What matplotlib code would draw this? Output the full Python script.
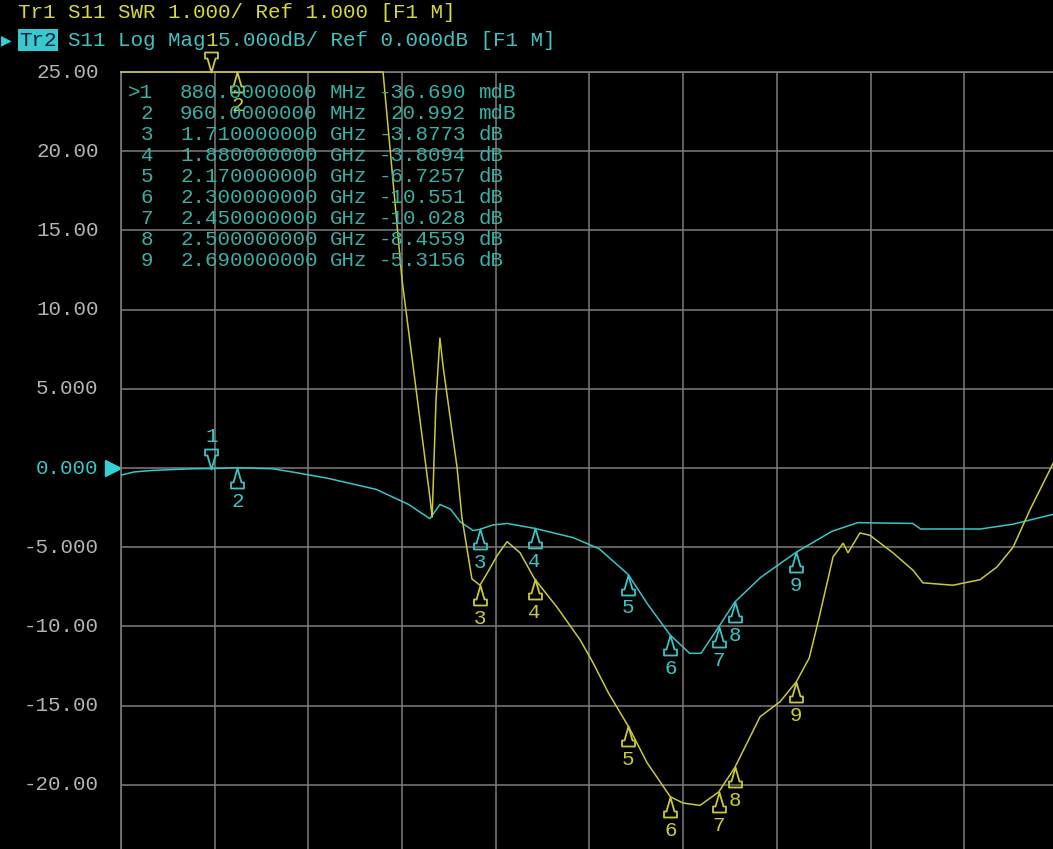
import numpy as np
import matplotlib
matplotlib.use("Agg")
import matplotlib.pyplot as plt
from matplotlib.path import Path
from matplotlib.transforms import blended_transform_factory

# Tr2: S11 log mag (dB)
freq_tr2 = [600, 640, 700, 820, 880, 960, 1070, 1130, 1240, 1390, 1490, 1556, 1587,
            1620, 1650, 1690, 1710, 1750, 1795, 1880, 2000, 2080, 2170, 2230, 2300,
            2360, 2395, 2450, 2500, 2580, 2690, 2800, 2880, 3050, 3075, 3260, 3360, 3490]
s11_db = [-0.45, -0.25, -0.15, -0.05, -0.037, 0.021, -0.05, -0.25, -0.65, -1.35, -2.3,
          -3.2, -2.3, -2.6, -3.4, -3.95, -3.877, -3.6, -3.5, -3.809, -4.4, -5.1, -6.726,
          -8.6, -10.551, -11.7, -11.7, -10.028, -8.456, -6.9, -5.316, -4.0, -3.45, -3.5,
          -3.85, -3.85, -3.55, -2.9]

# Tr1: SWR (screen clamps at the top line, 11.0)
freq_tr1 = [600, 1411, 1470, 1556, 1563, 1575, 1587, 1597, 1640, 1655, 1686, 1711, 1733,
            1765, 1795, 1835, 1880, 1950, 2021, 2061, 2110, 2170, 2228, 2300, 2339, 2392,
            2450, 2500, 2578, 2640, 2690, 2730, 2760, 2804, 2835, 2850, 2887, 2918, 2989,
            3051, 3082, 3175, 3259, 3311, 3361, 3413, 3490]
swr = [11.0, 11.0, 8.37, 5.63, 5.38, 6.86, 7.64, 7.28, 6.01, 5.38, 4.6, 4.52, 4.67,
       4.9, 5.07, 4.93, 4.6, 4.24, 3.83, 3.54, 3.15, 2.74, 2.28, 1.85, 1.77, 1.74,
       1.91, 2.22, 2.86, 3.05, 3.3, 3.6, 4.1, 4.88, 5.05, 4.93, 5.18, 5.15, 4.93,
       4.71, 4.55, 4.52, 4.59, 4.75, 5.0, 5.47, 6.1]

marker_freq = [880, 960, 1710, 1880, 2170, 2300, 2450, 2500, 2690]
marker_num = [">1", "2", "3", "4", "5", "6", "7", "8", "9"]
marker_freq_text = ["880.0000000", "960.0000000", "1.710000000", "1.880000000",
                    "2.170000000", "2.300000000", "2.450000000", "2.500000000",
                    "2.690000000"]
marker_freq_unit = ["MHz", "MHz", "GHz", "GHz", "GHz", "GHz", "GHz", "GHz", "GHz"]
marker_val_text = ["-36.690", "20.992", "-3.8773", "-3.8094", "-6.7257", "-10.551",
                   "-10.028", "-8.4559", "-5.3156"]
marker_val_unit = ["mdB", "mdB", "dB", "dB", "dB", "dB", "dB", "dB", "dB"]

ytick_vals = [25, 20, 15, 10, 5, 0, -5, -10, -15, -20]
ytick_labels = ["25.00", "20.00", "15.00", "10.00", "5.000", "0.000", "-5.000",
                "-10.00", "-15.00", "-20.00"]

CYAN = "#3cc4c4"
TABLE = "#3aafa5"
YEL = "#c9c93a"
GRID = "#7c7c7c"
LABEL = "#b4b4b4"
FONT = ["Liberation Mono", "DejaVu Sans Mono"]
FS = 15

W, H = 1053, 849
fig = plt.figure(figsize=(W / 100, H / 100), dpi=100, facecolor="black")


def fx(x):
    return x / W


def fy(y):
    return 1 - y / H


# plot area: 121..1058 px wide, 72..864 px tall (bottom/right run off the screen)
ax = fig.add_axes([fx(121), fy(864), 937 / W, 792 / H])
ax.set_facecolor("black")
ax.set_xlim(600, 3500)
ax.set_ylim(-25, 25)
ax.set_xticks(np.linspace(600, 3500, 11))
ax.set_yticks(np.arange(-25, 26, 5))
ax.grid(True, color=GRID, lw=1.1)
ax.tick_params(length=0, labelleft=False, labelbottom=False)
for s in ax.spines.values():
    s.set_color(GRID)
    s.set_linewidth(1.2)

# SWR scale: 1.000/div, ref 1.000 on the bottom line
ax2 = ax.twinx()
ax2.set_ylim(1, 11)
ax2.axis("off")

ax.plot(freq_tr2, s11_db, color=CYAN, lw=1.1, zorder=3)
ax2.plot(freq_tr1, swr, color=YEL, lw=1.1, clip_on=False, zorder=3)

# marker glyph: narrow triangle on a little base, tip at the origin
up_verts = [(0, 0), (-4, -14), (-6.5, -14), (-6.5, -20), (6.5, -20), (6.5, -14),
            (4, -14), (0, 0)]
up_path = Path(up_verts, closed=True)
down_path = Path([(vx, -vy) for vx, vy in up_verts], closed=True)
MS = 20 * 72 / 100 * 2


def draw_markers(a, src_f, vals, color):
    for i, f in enumerate(marker_freq):
        v = np.interp(f, src_f, vals)
        if i == 0:
            a.plot(f, v, marker=down_path, ms=MS, mfc="none", mec=color, mew=1.3,
                   clip_on=False, zorder=5)
            off = 23
        else:
            a.plot(f, v, marker=up_path, ms=MS, mfc="none", mec=color, mew=1.3,
                   clip_on=False, zorder=5)
            off = -24
        a.annotate(str(i + 1), (f, v), xytext=(0, off), textcoords="offset points",
                   ha="center", va="center", color=color, fontsize=FS,
                   family=FONT, annotation_clip=False, zorder=5)


draw_markers(ax, freq_tr2, s11_db, CYAN)
draw_markers(ax2, freq_tr1, swr, YEL)

# y scale labels
ytrans = blended_transform_factory(ax.transAxes, ax.transData)
for v, lab in zip(ytick_vals, ytick_labels):
    ax.text(-0.024, v, lab, transform=ytrans, ha="right", va="center",
            color=CYAN if v == 0 else LABEL, fontsize=FS, family=FONT, clip_on=False)
ax.plot([-0.0085], [0], marker=">", ms=11, color="#35d0d8", transform=ytrans,
        clip_on=False)

# header lines
fig.text(fx(18), fy(13), "Tr1 S11 SWR 1.000/ Ref 1.000 [F1 M]", color="#d6d63e",
         fontsize=FS, family=FONT, va="center", ha="left")
fig.text(fx(1), fy(40), "\u25B6", color="#35d0d8", fontsize=10, family="DejaVu Sans",
         va="center", ha="left")
fig.text(fx(19), fy(40), "Tr2", color="#0b1838", fontsize=FS, family=FONT,
         va="center", ha="left",
         bbox=dict(boxstyle="square,pad=0.05", fc="#38c8d0", ec="none"))
fig.text(fx(68), fy(40), "S11 Log Mag 5.000dB/ Ref 0.000dB [F1 M]", color="#45c0c0",
         fontsize=FS, family=FONT, va="center", ha="left")

# marker table
for i in range(len(marker_freq)):
    y = fy(93 + i * 20.9)
    fig.text(fx(153), y, marker_num[i], color=TABLE, fontsize=FS, family=FONT,
             ha="right", va="center")
    fig.text(fx(180), y, marker_freq_text[i], color=TABLE, fontsize=FS, family=FONT,
             ha="left", va="center")
    fig.text(fx(330), y, marker_freq_unit[i], color=TABLE, fontsize=FS, family=FONT,
             ha="left", va="center")
    fig.text(fx(466), y, marker_val_text[i], color=TABLE, fontsize=FS, family=FONT,
             ha="right", va="center")
    fig.text(fx(479), y, marker_val_unit[i], color=TABLE, fontsize=FS, family=FONT,
             ha="left", va="center")

fig.savefig("out.png", dpi=100, facecolor="black")
